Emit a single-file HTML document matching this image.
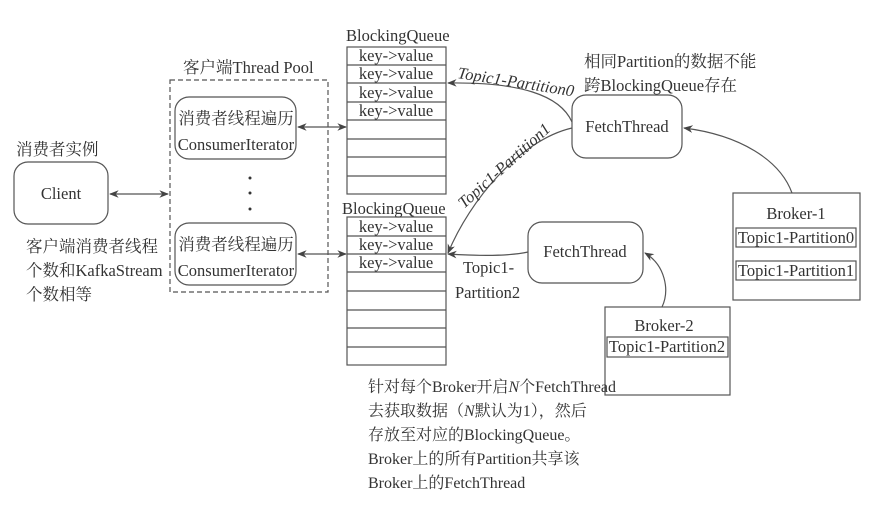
<!DOCTYPE html>
<html><head><meta charset="utf-8"><style>
body{margin:0;background:#fff;}
svg text{font-family:"Liberation Serif","Noto Serif CJK SC",serif;fill:#333;}
</style></head><body>
<svg width="895" height="502" viewBox="0 0 895 502" xmlns="http://www.w3.org/2000/svg">
<defs><marker id="a" viewBox="0 0 10 10" refX="9" refY="5" markerWidth="8" markerHeight="8" orient="auto-start-reverse"><path d="M0,1 L10,5 L0,9 L3,5Z" fill="#444"/></marker></defs>
<g stroke="#555" fill="none" stroke-width="1.2">
<rect x="347" y="47" width="99" height="147"/>
<path d="M347 65H446M347 83H446M347 102H446M347 120H446M347 139H446M347 157H446M347 176H446"/>
<rect x="347" y="217" width="99" height="148"/>
<path d="M347 236H446M347 254H446M347 272H446M347 291H446M347 310H446M347 328H446M347 347H446"/>
<rect x="572" y="95" width="110" height="63" rx="14"/>
<rect x="528" y="222" width="115" height="61" rx="14"/>
<rect x="733" y="193" width="127" height="107"/>
<rect x="736" y="228" width="120" height="19"/>
<rect x="736" y="261" width="120" height="19"/>
<rect x="605" y="307" width="125" height="88"/>
<rect x="607" y="337" width="121" height="20"/>
<rect x="14" y="162" width="94" height="62" rx="14"/>
<rect x="175" y="97" width="121" height="62" rx="14"/>
<rect x="175" y="223" width="121" height="62" rx="14"/>
<rect x="170" y="80" width="158" height="212" stroke-dasharray="5,3"/>
<path d="M110 194H168" marker-start="url(#a)" marker-end="url(#a)"/>
<path d="M298 127H346" marker-start="url(#a)" marker-end="url(#a)"/>
<path d="M298 254H346" marker-start="url(#a)" marker-end="url(#a)"/>
<path d="M572 122 C560 95 520 82 448 83" marker-end="url(#a)"/>
<path d="M572 128 C520 140 470 200 448 253" marker-end="url(#a)"/>
<path d="M528 252 C510 256 480 256 448 254" marker-end="url(#a)"/>
<path d="M792 193 C780 160 740 135 684 128" marker-end="url(#a)"/>
<path d="M662 307 C670 290 665 265 645 253" marker-end="url(#a)"/>
</g>
<g fill="#333">
<circle cx="250" cy="178" r="1.5"/><circle cx="250" cy="193" r="1.5"/><circle cx="250" cy="209" r="1.5"/>
</g>
<g font-size="16.5">
<text x="346" y="41">BlockingQueue</text>
<text x="342" y="214">BlockingQueue</text>
<g text-anchor="middle">
<text x="396" y="61">key-&gt;value</text><text x="396" y="79">key-&gt;value</text><text x="396" y="98">key-&gt;value</text><text x="396" y="116">key-&gt;value</text>
<text x="396" y="232">key-&gt;value</text><text x="396" y="250">key-&gt;value</text><text x="396" y="268">key-&gt;value</text>
<text x="627" y="132">FetchThread</text>
<text x="585" y="257">FetchThread</text>
<text x="796" y="219">Broker-1</text>
<text x="796" y="243">Topic1-Partition0</text>
<text x="796" y="276">Topic1-Partition1</text>
<text x="664" y="331">Broker-2</text>
<text x="667" y="352">Topic1-Partition2</text>
<text x="61" y="199">Client</text>
<text x="236" y="124">消费者线程遍历</text>
<text x="236" y="150">ConsumerIterator</text>
<text x="236" y="250">消费者线程遍历</text>
<text x="236" y="276">ConsumerIterator</text>
</g>
<text x="183" y="73">客户端Thread Pool</text>
<text x="16" y="155">消费者实例</text>
<text x="26" y="252">客户端消费者线程</text>
<text x="26" y="276">个数和KafkaStream</text>
<text x="26" y="300">个数相等</text>
<text x="584" y="67">相同Partition的数据不能</text>
<text x="584" y="91">跨BlockingQueue存在</text>
<text x="457" y="78" font-style="italic" transform="rotate(9 457 78)">Topic1-Partition0</text>
<text x="464" y="209" font-style="italic" transform="rotate(-42 464 209)">Topic1-Partition1</text>
<text x="463" y="273">Topic1-</text>
<text x="455" y="298">Partition2</text>
</g>
<g font-size="16">
<text x="368" y="392">针对每个Broker开启<tspan font-style="italic">N</tspan>个FetchThread</text>
<text x="368" y="416">去获取数据（<tspan font-style="italic">N</tspan>默认为1），然后</text>
<text x="368" y="440">存放至对应的BlockingQueue。</text>
<text x="368" y="464">Broker上的所有Partition共享该</text>
<text x="368" y="488">Broker上的FetchThread</text>
</g>
</svg>
</body></html>
